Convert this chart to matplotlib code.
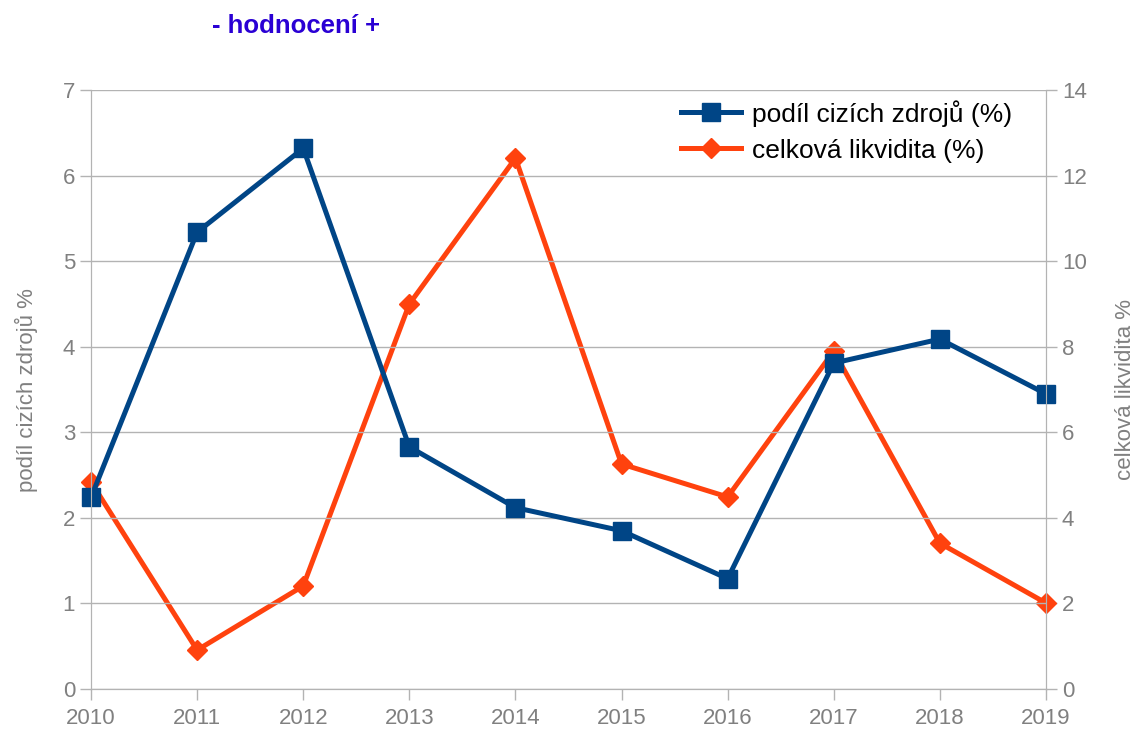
import matplotlib.pyplot as plt
import numpy as np

plt.rcParams['font.family'] = ['Liberation Sans', 'DejaVu Sans']

years = [2010, 2011, 2012, 2013, 2014, 2015, 2016, 2017, 2018, 2019]
podil = [2.24, 5.34, 6.32, 2.83, 2.12, 1.85, 1.29, 3.81, 4.09, 3.45]
likvidita = [4.84, 0.91, 2.41, 9.0, 12.41, 5.26, 4.49, 7.9, 3.41, 2.01]

blue = '#004586'
orange = '#ff420e'
gray = '#b3b3b3'
txt = '#808080'

fig = plt.figure(figsize=(11.45, 7.33), dpi=100)
ax = fig.add_axes([0.0795, 0.060, 0.834, 0.817])
ax2 = ax.twinx()

x = np.arange(len(years))
l2, = ax2.plot(x, likvidita, color=orange, lw=3.6, marker='D', ms=10,
               label='celková likvidita (%)', clip_on=False)
l1, = ax.plot(x, podil, color=blue, lw=3.6, marker='s', ms=13,
              label='podíl cizích zdrojů (%)', clip_on=False)
ax.set_zorder(ax2.get_zorder() + 1)
ax.patch.set_visible(False)

ax.set_xlim(0, len(years) - 1)
ax.set_ylim(0, 7)
ax2.set_ylim(0, 14)
ax.set_xticks(x)
ax.set_xticklabels(years)
ax.set_yticks(range(0, 8))
ax2.set_yticks(range(0, 15, 2))
ax.yaxis.grid(True, color=gray, lw=1)
ax.set_axisbelow(True)

for a in (ax, ax2):
    for s in a.spines.values():
        s.set_color(gray)
    a.spines['top'].set_visible(False)
    a.tick_params(colors=gray, labelcolor=txt, labelsize=16, length=8, width=1)
ax.tick_params(axis='x', pad=6)

ax.set_ylabel('podíl cizích zdrojů %', color=txt, fontsize=16, labelpad=18)
ax2.set_ylabel('celková likvidita %', color=txt, fontsize=16, labelpad=20)

ax.legend(handles=[l1, l2], loc='upper right', frameon=False, fontsize=19,
          handlelength=2.3, handletextpad=0.4, labelspacing=0.45,
          borderaxespad=0.2, bbox_to_anchor=(0.981, 1.01))

fig.text(0.185, 0.965, '- hodnocení +', color='#2a00d4', fontsize=18.5,
         fontweight='bold', va='center')

fig.savefig('out.png', dpi=100)
